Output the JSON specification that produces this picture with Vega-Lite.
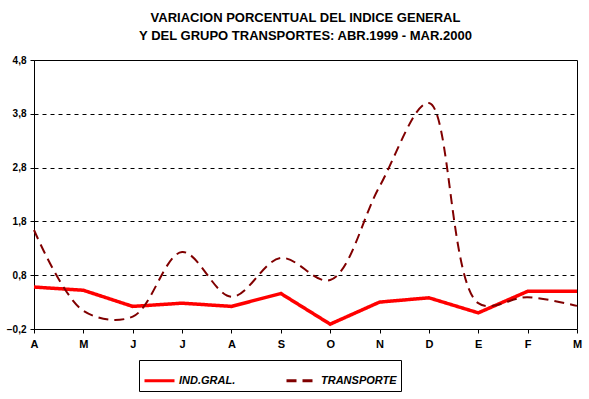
{
  "$schema": "https://vega.github.io/schema/vega-lite/v6.json",
  "autosize": {"type": "none"},
  "width": 543,
  "height": 269,
  "padding": {"left": 34, "top": 60, "right": 12, "bottom": 70},
  "background": "white",
  "title": {
    "text": ["VARIACION PORCENTUAL DEL INDICE GENERAL", "Y DEL GRUPO TRANSPORTES: ABR.1999 - MAR.2000"],
    "font": "Liberation Sans",
    "fontSize": 13,
    "fontWeight": "bold",
    "lineHeight": 18,
    "offset": 12,
    "color": "black"
  },
  "config": {
    "view": {"stroke": "black", "strokeWidth": 1},
    "axis": {
      "labelFont": "Liberation Sans",
      "labelFontWeight": "bold",
      "labelFontSize": 11,
      "labelColor": "black",
      "tickColor": "black",
      "domainColor": "black"
    }
  },
  "data": {
    "values": [
      {"mes": "Abr99", "serie": "IND.GRAL.", "valor": 0.58},
      {"mes": "May99", "serie": "IND.GRAL.", "valor": 0.52},
      {"mes": "Jun99", "serie": "IND.GRAL.", "valor": 0.22},
      {"mes": "Jul99", "serie": "IND.GRAL.", "valor": 0.28},
      {"mes": "Ago99", "serie": "IND.GRAL.", "valor": 0.22},
      {"mes": "Sep99", "serie": "IND.GRAL.", "valor": 0.46},
      {"mes": "Oct99", "serie": "IND.GRAL.", "valor": -0.11},
      {"mes": "Nov99", "serie": "IND.GRAL.", "valor": 0.30},
      {"mes": "Dic99", "serie": "IND.GRAL.", "valor": 0.38},
      {"mes": "Ene00", "serie": "IND.GRAL.", "valor": 0.10},
      {"mes": "Feb00", "serie": "IND.GRAL.", "valor": 0.50},
      {"mes": "Mar00", "serie": "IND.GRAL.", "valor": 0.50},
      {"mes": "Abr99", "serie": "TRANSPORTE", "valor": 1.64},
      {"mes": "May99", "serie": "TRANSPORTE", "valor": 0.14},
      {"mes": "Jun99", "serie": "TRANSPORTE", "valor": 0.03},
      {"mes": "Jul99", "serie": "TRANSPORTE", "valor": 1.23},
      {"mes": "Ago99", "serie": "TRANSPORTE", "valor": 0.40},
      {"mes": "Sep99", "serie": "TRANSPORTE", "valor": 1.12},
      {"mes": "Oct99", "serie": "TRANSPORTE", "valor": 0.71},
      {"mes": "Nov99", "serie": "TRANSPORTE", "valor": 2.45},
      {"mes": "Dic99", "serie": "TRANSPORTE", "valor": 4.0},
      {"mes": "Ene00", "serie": "TRANSPORTE", "valor": 0.28},
      {"mes": "Feb00", "serie": "TRANSPORTE", "valor": 0.39},
      {"mes": "Mar00", "serie": "TRANSPORTE", "valor": 0.23}
    ]
  },
  "encoding": {
    "x": {
      "field": "mes",
      "type": "nominal",
      "sort": null,
      "scale": {"type": "point", "padding": 0},
      "axis": {
        "title": null,
        "labelAngle": 0,
        "labelExpr": "substring(datum.label, 0, 1)",
        "tickSize": 4,
        "labelPadding": 5,
        "domain": false,
        "grid": false
      }
    },
    "y": {
      "field": "valor",
      "type": "quantitative",
      "scale": {"domain": [-0.2, 4.8], "nice": false, "zero": false},
      "axis": {
        "title": null,
        "values": [-0.2, 0.8, 1.8, 2.8, 3.8, 4.8],
        "labelExpr": "replace(format(datum.value, '.1f'), '.', ',')",
        "labelFontSize": 10,
        "tickSize": 4,
        "labelPadding": 4,
        "domain": false,
        "grid": true,
        "gridColor": "black",
        "gridDash": [4, 4],
        "gridOpacity": 1,
        "gridWidth": 1
      }
    },
    "color": {
      "field": "serie",
      "type": "nominal",
      "scale": {"domain": ["IND.GRAL.", "TRANSPORTE"], "range": ["#FF0000", "#800000"]},
      "legend": {
        "title": null,
        "orient": "none",
        "legendX": 105,
        "legendY": 300,
        "direction": "horizontal",
        "strokeColor": "black",
        "fillColor": "white",
        "padding": 4,
        "symbolType": "stroke",
        "symbolSize": 900,
        "symbolStrokeWidth": 3,
        "labelFont": "Liberation Sans",
        "labelFontWeight": "bold",
        "labelFontStyle": "italic",
        "labelFontSize": 11,
        "labelColor": "black",
        "labelOffset": 3,
        "columnPadding": 44
      }
    },
    "strokeDash": {
      "field": "serie",
      "type": "nominal",
      "scale": {"domain": ["IND.GRAL.", "TRANSPORTE"], "range": [[1, 0], [10, 6]]},
      "legend": null
    }
  },
  "layer": [
    {
      "transform": [{"filter": "datum.serie == 'IND.GRAL.'"}],
      "mark": {"type": "line", "strokeWidth": 3.5, "interpolate": "linear"}
    },
    {
      "transform": [{"filter": "datum.serie == 'TRANSPORTE'"}],
      "mark": {"type": "line", "strokeWidth": 2, "interpolate": "catmull-rom", "strokeDash": [8, 6]}
    }
  ]
}
